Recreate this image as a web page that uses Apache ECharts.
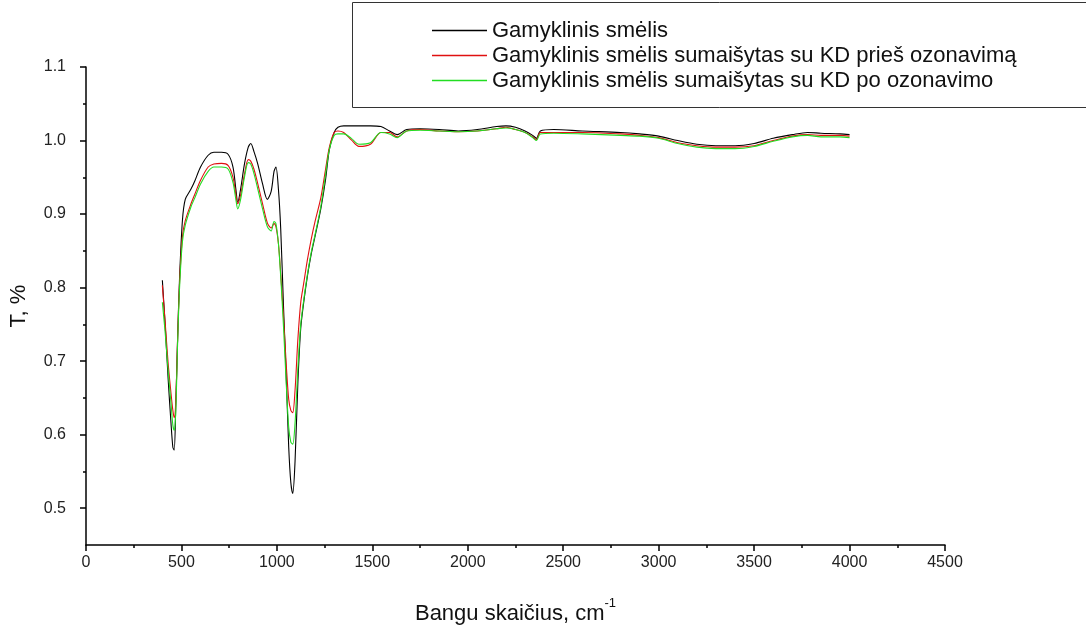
<!DOCTYPE html>
<html>
<head>
<meta charset="utf-8">
<script src="https://cdn.jsdelivr.net/npm/echarts@6/dist/echarts.min.js"></script>
<style>
html,body{margin:0;padding:0;background:#fff;}
#chart{width:1086px;height:630px;}
</style>
</head>
<body>
<div id="chart"></div>
<script>
const seriesNames = [
  'Gamyklinis smėlis',
  'Gamyklinis smėlis sumaišytas su KD prieš ozonavimą',
  'Gamyklinis smėlis sumaišytas su KD po ozonavimo'
];
const wavenumbers = [400,415,430,445,455,462,470,480,490,505,520,550,570,600,640,670,710,745,770,785,795,810,830,850,863,880,900,925,950,970,985,995,1008,1020,1035,1050,1062,1073,1083,1095,1110,1125,1140,1160,1180,1200,1230,1255,1275,1300,1320,1350,1390,1430,1490,1545,1590,1630,1680,1750,1850,1950,2050,2150,2200,2250,2300,2340,2360,2380,2450,2600,2800,2900,3000,3100,3200,3300,3400,3500,3600,3700,3780,3850,3950,4000];
const sandValues = [0.810,0.748,0.677,0.617,0.583,0.579,0.637,0.731,0.812,0.891,0.920,0.934,0.945,0.964,0.980,0.984,0.984,0.981,0.964,0.934,0.916,0.934,0.968,0.991,0.996,0.985,0.968,0.941,0.920,0.931,0.958,0.964,0.934,0.880,0.772,0.671,0.583,0.535,0.520,0.563,0.671,0.745,0.779,0.816,0.846,0.870,0.907,0.947,0.988,1.011,1.018,1.020,1.020,1.020,1.020,1.019,1.013,1.008,1.015,1.016,1.015,1.013,1.015,1.019,1.020,1.018,1.013,1.007,1.003,1.013,1.015,1.013,1.011,1.009,1.006,1.000,0.995,0.993,0.993,0.996,1.003,1.008,1.011,1.010,1.009,1.008];
const beforeValues = [0.803,0.752,0.698,0.657,0.633,0.623,0.644,0.731,0.806,0.869,0.891,0.914,0.927,0.946,0.964,0.968,0.969,0.966,0.950,0.927,0.914,0.926,0.954,0.974,0.972,0.961,0.941,0.914,0.888,0.881,0.887,0.883,0.860,0.819,0.758,0.691,0.648,0.633,0.630,0.660,0.730,0.780,0.805,0.838,0.866,0.890,0.922,0.961,0.991,1.011,1.013,1.011,1.001,0.992,0.995,1.011,1.011,1.005,1.013,1.015,1.013,1.012,1.013,1.016,1.018,1.015,1.011,1.005,1.001,1.011,1.011,1.011,1.009,1.007,1.004,0.997,0.993,0.991,0.991,0.993,1.000,1.006,1.008,1.007,1.007,1.006];
const afterValues = [0.780,0.738,0.688,0.644,0.613,0.606,0.630,0.725,0.799,0.862,0.885,0.910,0.922,0.941,0.958,0.964,0.964,0.961,0.943,0.920,0.907,0.920,0.950,0.970,0.968,0.955,0.934,0.907,0.883,0.877,0.890,0.887,0.860,0.815,0.745,0.664,0.610,0.590,0.587,0.615,0.690,0.750,0.782,0.818,0.848,0.872,0.910,0.954,0.988,1.007,1.009,1.009,1.003,0.995,0.997,1.011,1.009,1.004,1.013,1.014,1.013,1.012,1.013,1.016,1.017,1.015,1.011,1.004,1.000,1.009,1.010,1.009,1.007,1.006,1.003,0.996,0.991,0.989,0.989,0.992,0.999,1.005,1.007,1.005,1.005,1.004];
const xTicks = [0,500,1000,1500,2000,2500,3000,3500,4000,4500];
const yMajorTicks = [0.5,0.6,0.7,0.8,0.9,1.0,1.1];
const yMinorTicks = [0.55,0.65,0.75,0.85,0.95,1.05];
const colors = ['#000000','#e01010','#22dd22'];

const pair = (vals) => wavenumbers.map((w,i)=>[w, vals[i]]);
const allValues = [sandValues, beforeValues, afterValues];

const FONT = 'Liberation Sans, Arial, sans-serif';
const chart = echarts.init(document.getElementById('chart'), null, {renderer:'canvas'});
const axisColor = '#000';
const labelFont = {fontFamily:FONT, fontSize:16, color:'#222'};
chart.setOption({
  animation:false,
  backgroundColor:'#fff',
  grid:{left:85, right:141, top:67, bottom:82, containLabel:false},
  graphic:[{
    type:'rect', left:352, top:2, z:0,
    shape:{width:740, height:105},
    style:{fill:'#fff', stroke:'#333', lineWidth:1}
  }],
  legend:{
    orient:'vertical', left:427, top:13, itemWidth:55, itemHeight:1.3, itemGap:0,
    icon:'rect',
    textStyle:{fontFamily:FONT, fontSize:22, color:'#111', lineHeight:25},
    data:seriesNames, selectedMode:false, z:5
  },
  xAxis:{
    type:'value', min:0, max:4500, interval:500,
    axisLine:{lineStyle:{color:axisColor, width:1.5}},
    axisTick:{show:true, length:6, lineStyle:{color:axisColor, width:1.5}, customValues:xTicks},
    minorTick:{show:true, splitNumber:2, length:3, lineStyle:{color:axisColor, width:1.5}},
    axisLabel:{...labelFont, margin:10, customValues:xTicks, formatter:(v)=>String(v)},
    splitLine:{show:false},
    name:'{a|Bangu skaičius, cm}{s|-1}',
    nameLocation:'middle', nameGap:52,
    nameTextStyle:{
      fontFamily:FONT, fontSize:22, color:'#111',
      rich:{
        a:{fontFamily:FONT, fontSize:22, color:'#111', lineHeight:28, verticalAlign:'bottom'},
        s:{fontFamily:FONT, fontSize:13, color:'#111', lineHeight:28, verticalAlign:'top'}
      }
    }
  },
  yAxis:[{
    type:'value', min:0.45, max:1.1,
    axisLine:{lineStyle:{color:axisColor, width:1.5}},
    axisTick:{show:true, length:6, lineStyle:{color:axisColor, width:1.5}, customValues:yMajorTicks},
    axisLabel:{...labelFont, margin:20, customValues:yMajorTicks, formatter:(v)=>v.toFixed(1)},
    splitLine:{show:false},
    name:'T, %', nameLocation:'middle', nameGap:56, nameRotate:90,
    nameTextStyle:{fontFamily:FONT, fontSize:22, color:'#111'}
  },{
    type:'value', min:0.45, max:1.1, position:'left',
    axisLine:{show:false},
    axisTick:{show:true, length:3, lineStyle:{color:axisColor, width:1.5}, customValues:yMinorTicks},
    axisLabel:{show:false},
    splitLine:{show:false}
  }],
  series: seriesNames.map((n,i)=>({
    name:n, type:'line', data:pair(allValues[i]), yAxisIndex:0,
    symbol:'none', smooth:0.3, color:colors[i],
    lineStyle:{color:colors[i], width:1.1}, z:2+i
  }))
});
</script>
</body>
</html>
